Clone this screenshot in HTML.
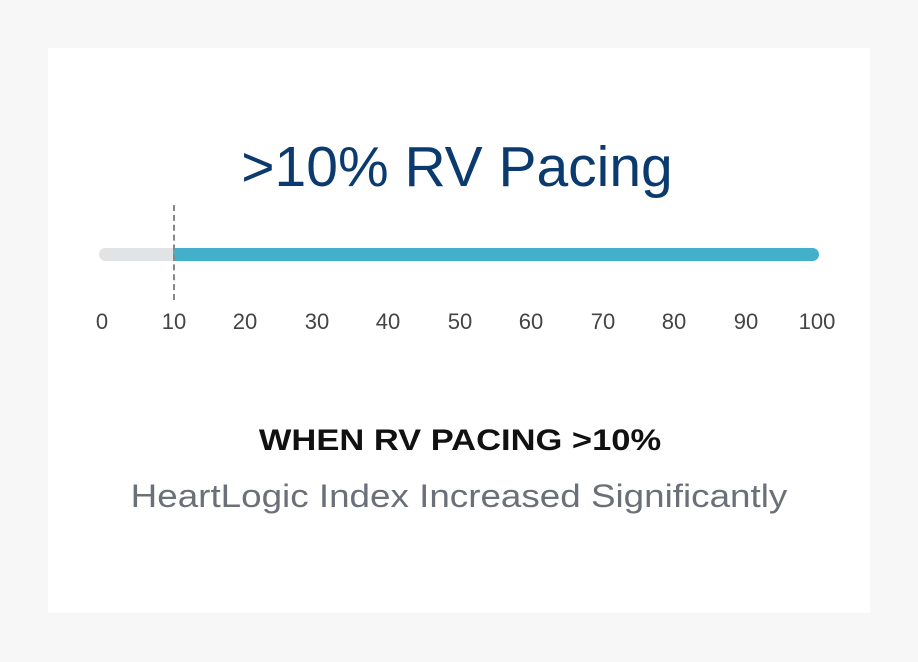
<!DOCTYPE html>
<html><head><style>
body{margin:0;width:918px;height:662px;background:#f7f7f7;position:relative;font-family:"Liberation Sans","DejaVu Sans",sans-serif;overflow:hidden}
.card{position:absolute;left:48px;top:48px;width:822px;height:565px;background:#fff}
.t{position:absolute;left:0;width:918px;text-align:center;white-space:nowrap}
.tk{position:absolute;top:309px;font-size:22px;color:#444;transform:translateX(-50%)}
</style></head><body>
<div class="card"></div>
<div class="t" style="top:134px;font-size:57px;color:#0b3b6e;left:-2px">&gt;10% RV Pacing</div>
<div style="position:absolute;left:99px;top:248px;width:720px;height:13px;border-radius:7px;background:#e2e3e5"></div>
<div style="position:absolute;left:173px;top:248px;width:646px;height:13px;border-radius:0 7px 7px 0;background:#42b0c8"></div>
<div style="position:absolute;left:173px;top:205px;height:95px;border-left:2px dashed #888"></div>
<div class="tk" style="left:102px">0</div>
<div class="tk" style="left:174px">10</div>
<div class="tk" style="left:245px">20</div>
<div class="tk" style="left:317px">30</div>
<div class="tk" style="left:388px">40</div>
<div class="tk" style="left:460px">50</div>
<div class="tk" style="left:531px">60</div>
<div class="tk" style="left:603px">70</div>
<div class="tk" style="left:674px">80</div>
<div class="tk" style="left:746px">90</div>
<div class="tk" style="left:817px">100</div>
<div class="t" style="top:424px;font-size:30px;font-weight:bold;color:#111;transform:scaleX(1.15);left:1px">WHEN RV PACING &gt;10%</div>
<div class="t" style="top:478px;font-size:32px;color:#6b6f78;transform:scaleX(1.15)">HeartLogic Index Increased Significantly</div>
</body></html>
